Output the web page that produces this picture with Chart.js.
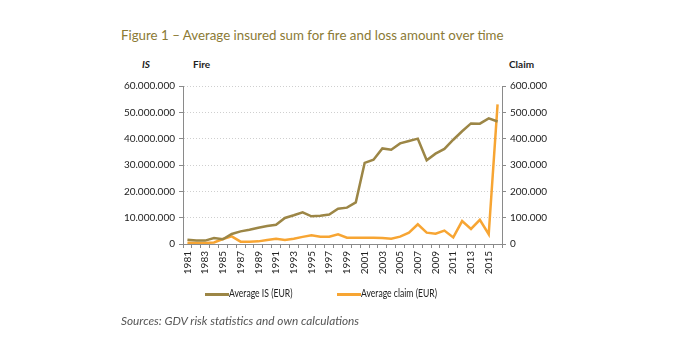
<!DOCTYPE html>
<html>
<head>
<meta charset="utf-8">
<script src="https://cdn.jsdelivr.net/npm/chart.js@4/dist/chart.umd.min.js"></script>
<style>
  body { margin: 0; background: #fff; }
  #wrap { position: relative; width: 674px; height: 360px; overflow: hidden; font-family: Lato, sans-serif; }
  #chart { position: absolute; left: 0; top: 0; }
  .txt { position: absolute; white-space: nowrap; transform-origin: left center; }
  .title { left: 121px; top: 26px; font-size: 14px; color: #8b7a35; transform: scaleX(0.95); }
  .axt { top: 58px; font-size: 10px; font-weight: bold; color: #222; }
  .leg { top: 287px; font-size: 10.5px; color: #222; transform: scaleX(0.82); }
  .swatch { position: absolute; top: 293px; width: 24px; height: 3px; }
  .src { left: 121px; top: 313px; font-size: 11.8px; font-style: italic; color: #555; }
</style>
</head>
<body>
<div id="wrap">
  <div class="txt title">Figure 1 – Average insured sum for fire and loss amount over time</div>
  <div class="txt axt" style="left:142px;font-style:italic;">IS</div>
  <div class="txt axt" style="left:193px;">Fire</div>
  <div class="txt axt" style="left:509px;">Claim</div>
  <canvas id="chart" width="674" height="300"></canvas>
  <div class="swatch" style="left:205px;background:#9c8646;"></div>
  <div class="txt leg" style="left:229px;">Average IS (EUR)</div>
  <div class="swatch" style="left:337px;background:#f7a533;"></div>
  <div class="txt leg" style="left:361px;">Average claim (EUR)</div>
  <div class="txt src">Sources: GDV risk statistics and own calculations</div>
</div>
<script>
// Years on the category axis
const years = [
  1981, 1982, 1983, 1984, 1985, 1986, 1987, 1988, 1989, 1990,
  1991, 1992, 1993, 1994, 1995, 1996, 1997, 1998, 1999, 2000,
  2001, 2002, 2003, 2004, 2005, 2006, 2007, 2008, 2009, 2010,
  2011, 2012, 2013, 2014, 2015, 2016
];

// Average insured sum (EUR), left axis
const avgIS = [
  1650000, 1300000, 1300000, 2300000, 1800000, 3800000, 4800000, 5400000, 6200000, 6800000,
  7300000, 9900000, 10900000, 12000000, 10500000, 10700000, 11200000, 13400000, 13800000, 15800000,
  30800000, 32000000, 36300000, 35800000, 38200000, 39100000, 40000000, 31800000, 34300000, 36100000,
  39600000, 42800000, 45800000, 45700000, 47700000, 46500000
];

// Average claim (EUR), right axis
const avgClaim = [
  5000, 4000, 4000, 6000, 19000, 29000, 9000, 9000, 10000, 15000,
  20000, 15000, 20000, 27000, 33000, 28000, 28000, 37000, 24000, 24000,
  24000, 24000, 23000, 20000, 28000, 43000, 75000, 43000, 39000, 51000,
  25000, 87000, 57000, 92000, 37000, 530000
];

// Axis ranges
const leftMax = 60000000;
const leftStep = 10000000;
const rightMax = 600000;
const rightStep = 100000;

// Format numbers the German way (dots as thousands separator)
function fmt(v) {
  return Number(v).toLocaleString('de-DE');
}

const tickFont = { family: 'Lato, sans-serif', size: 10 };
const axisGray = '#8a8a8a';

const ctx = document.getElementById('chart').getContext('2d');
new Chart(ctx, {
  type: 'line',
  data: {
    labels: years,
    datasets: [{
      label: 'Average IS (EUR)',
      data: avgIS,
      borderColor: '#9c8646',
      borderWidth: 2.5,
      pointRadius: 0,
      tension: 0,
      yAxisID: 'yIS'
    }, {
      label: 'Average claim (EUR)',
      data: avgClaim,
      borderColor: '#f7a533',
      borderWidth: 2.5,
      pointRadius: 0,
      tension: 0,
      yAxisID: 'yClaim'
    }]
  },
  options: {
    responsive: false,
    animation: false,
    layout: { padding: { top: 86, left: 0, right: 0, bottom: 0 } },
    plugins: {
      legend: { display: false },
      tooltip: { enabled: false }
    },
    scales: {
      x: {
        offset: true,
        grid: {
          display: true,
          drawOnChartArea: false,
          offset: true,
          tickLength: 4,
          tickColor: axisGray
        },
        border: { color: axisGray, width: 1 },
        ticks: {
          autoSkip: false,
          maxRotation: 90,
          minRotation: 90,
          padding: 3,
          color: '#222',
          font: tickFont,
          callback: function(value, index) {
            return index % 2 === 0 ? String(years[index]) : '';
          }
        },
        afterFit: function(scale) { scale.height = 56; }
      },
      yIS: {
        position: 'left',
        min: 0,
        max: leftMax,
        grid: {
          color: '#cfcfcf',
          tickLength: 4,
          tickColor: axisGray
        },
        border: { color: axisGray, width: 1, dash: [1, 2] },
        ticks: {
          stepSize: leftStep,
          padding: 4,
          color: '#222',
          font: tickFont,
          callback: function(v) { return fmt(v); }
        },
        afterFit: function(scale) { scale.width = 183; }
      },
      yClaim: {
        position: 'right',
        min: 0,
        max: rightMax,
        grid: {
          drawOnChartArea: false,
          tickLength: 4,
          tickColor: axisGray
        },
        border: { color: axisGray, width: 1 },
        ticks: {
          stepSize: rightStep,
          padding: 4,
          color: '#222',
          font: tickFont,
          callback: function(v) { return fmt(v); }
        },
        afterFit: function(scale) { scale.width = 172; }
      }
    }
  }
});
</script>
</body>
</html>
